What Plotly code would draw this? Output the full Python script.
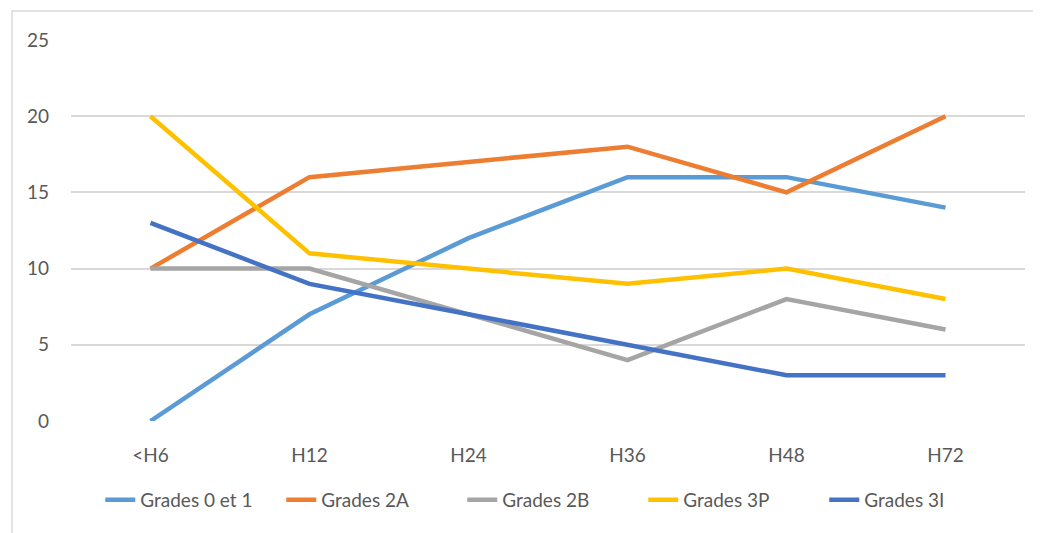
import plotly.graph_objects as go

categories = ["<H6", "H12", "H24", "H36", "H48", "H72"]
series_names = ["Grades 0 et 1", "Grades 2A", "Grades 2B", "Grades 3P", "Grades 3I"]
grades_0_1 = [0, 7, 12, 16, 16, 14]
grades_2a = [10, 16, 17, 18, 15, 20]
grades_2b = [10, 10, 7, 4, 8, 6]
grades_3p = [20, 11, 10, 9, 10, 8]
grades_3i = [13, 9, 7, 5, 3, 3]
colors = ["#5B9BD5", "#ED7D31", "#A5A5A5", "#FFC000", "#4472C4"]

fig = go.Figure()
for name, vals, col in zip(series_names,
                           [grades_0_1, grades_2a, grades_2b, grades_3p, grades_3i],
                           colors):
    fig.add_trace(go.Scatter(x=categories, y=vals, name=name, mode="lines",
                             line=dict(color=col, width=4.5)))

# outer chart border (Excel chart area)
fig.add_shape(type="rect", xref="paper", yref="paper",
              x0=-0.0618, x1=1.05, y0=-0.4, y1=1.076,
              line=dict(color="#D9D9D9", width=1.5), layer="below")

fig.update_layout(
    width=1041, height=533,
    margin=dict(l=63, r=24, t=32, b=120),
    plot_bgcolor="white", paper_bgcolor="white",
    font=dict(family="Lato", size=19, color="#595959"),
    showlegend=True,
    legend=dict(orientation="h", x=0.505, xanchor="center", y=-0.207, yanchor="middle",
                font=dict(size=19, color="#595959"), entrywidth=136,
                tracegroupgap=0),
    xaxis=dict(range=[-0.5, 5.5], showgrid=False, zeroline=False,
               showline=False, ticks="", ticklabelstandoff=21),
    yaxis=dict(range=[0, 25], dtick=5, showgrid=True, gridcolor="#D9D9D9",
               gridwidth=1.5, zeroline=False, showline=False, ticks="",
               ticklabelstandoff=21),
)

fig.write_html("out.html")
